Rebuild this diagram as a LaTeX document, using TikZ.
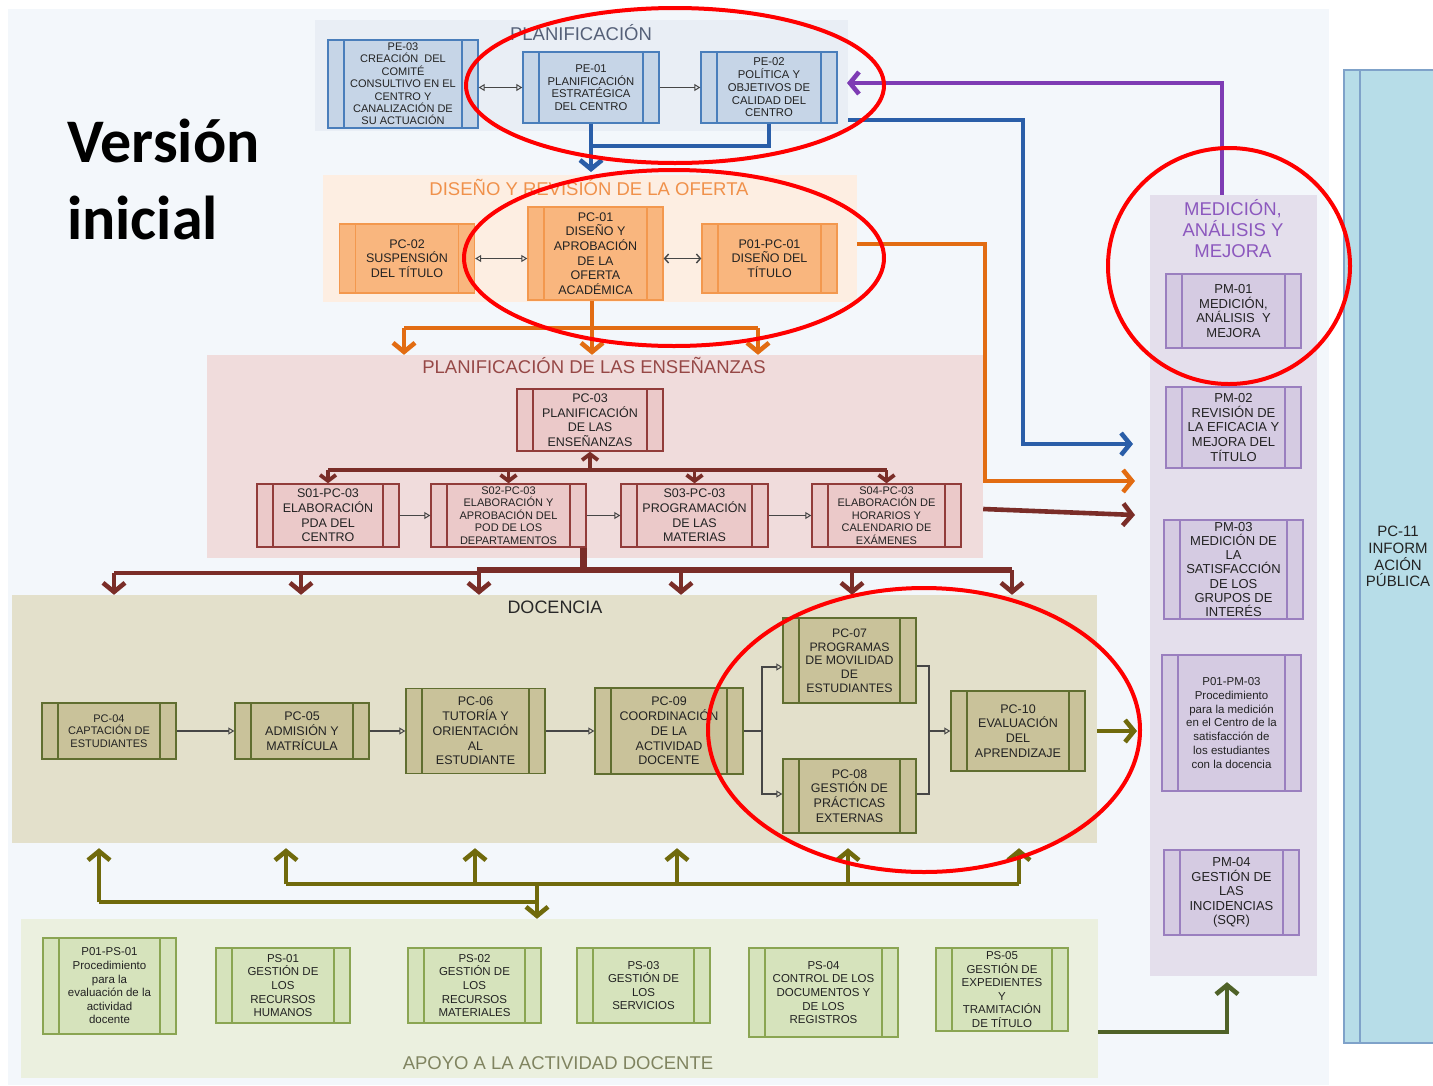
\documentclass[tikz,border=0pt]{standalone}
\usepackage{fontspec}
\setmainfont{Liberation Sans}
\newfontfamily\calibri{Carlito}
\usetikzlibrary{arrows.meta}

\definecolor{fondo}{RGB}{243,247,251}
\definecolor{bgplan}{RGB}{233,238,245}
\definecolor{bgdis}{RGB}{253,238,226}
\definecolor{bgens}{RGB}{240,220,220}
\definecolor{bgdoc}{RGB}{227,224,203}
\definecolor{bgapo}{RGB}{235,240,223}
\definecolor{bgmed}{RGB}{228,223,236}
\definecolor{azulb}{RGB}{74,126,187}
\definecolor{azulr}{RGB}{198,213,231}
\definecolor{naranjab}{RGB}{243,152,78}
\definecolor{naranjar}{RGB}{249,182,126}
\definecolor{rosab}{RGB}{146,60,58}
\definecolor{rosar}{RGB}{235,201,201}
\definecolor{ocreb}{RGB}{96,110,48}
\definecolor{ocrer}{RGB}{201,194,154}
\definecolor{verdeb}{RGB}{138,165,82}
\definecolor{verder}{RGB}{214,227,188}
\definecolor{moradob}{RGB}{154,127,191}
\definecolor{morador}{RGB}{213,203,226}
\definecolor{celesteb}{RGB}{127,162,201}
\definecolor{celester}{RGB}{183,221,232}
\definecolor{conector}{RGB}{70,70,70}
\definecolor{flazul}{RGB}{42,94,168}
\definecolor{flnaranja}{RGB}{226,108,18}
\definecolor{flmorado}{RGB}{126,60,180}
\definecolor{flgranate}{RGB}{122,45,40}
\definecolor{floliva}{RGB}{112,106,12}
\definecolor{flverde}{RGB}{79,98,40}
\definecolor{tplan}{RGB}{85,96,120}
\definecolor{tdis}{RGB}{240,145,75}
\definecolor{tens}{RGB}{150,72,70}
\definecolor{tdoc}{RGB}{40,40,40}
\definecolor{tapo}{RGB}{128,132,96}
\definecolor{tmed}{RGB}{140,88,190}
\definecolor{texto}{RGB}{35,35,35}

\begin{document}
\begin{tikzpicture}[x=1pt,y=1pt,yscale=-1,
  proc/.style 2 args={draw=#1, fill=#2, line width=1.4pt, inner sep=0pt, align=center, text=texto,
    path picture={\draw[#1, line width=1.4pt]
      ([xshift=16pt]path picture bounding box.north west) -- ([xshift=16pt]path picture bounding box.south west)
      ([xshift=-16pt]path picture bounding box.north east) -- ([xshift=-16pt]path picture bounding box.south east);}},
  caja/.style 2 args={minimum width=#1pt, minimum height=#2pt},
  pe/.style={proc={azulb}{azulr}, font=\fontsize{11.3}{12.7}\selectfont},
  pcn/.style={proc={naranjab}{naranjar}, font=\fontsize{12.5}{14.6}\selectfont},
  pcr/.style={proc={rosab}{rosar}, font=\fontsize{12.5}{14.6}\selectfont},
  pcd/.style={proc={ocreb}{ocrer}, font=\fontsize{12.5}{14.7}\selectfont},
  ps/.style={proc={verdeb}{verder}, font=\fontsize{11.5}{13.6}\selectfont},
  pm/.style={proc={moradob}{morador}, font=\fontsize{13}{14.6}\selectfont},
  menor/.style={font=\fontsize{11}{12.6}\selectfont},
  grupo/.style={rectangle, inner sep=0pt, draw=none},
  titulo/.style={anchor=base, inner sep=0pt, font=\fontsize{18.5}{21}\selectfont},
  linea/.style={draw=conector, line width=1.4pt},
  flecha/.style={linea, -{Triangle[open, length=6pt, width=7pt, line width=1pt]}},
  dflecha/.style={linea, {Triangle[open, length=6pt, width=7pt, line width=1pt]}-{Triangle[open, length=6pt, width=7pt, line width=1pt]}},
  barbas/.style={linea, {Straight Barb[length=4pt, width=9pt]}-{Straight Barb[length=4pt, width=9pt]}},
  gruesa/.style={line width=4.6pt},
  punta/.style={gruesa, -{Straight Barb[length=9pt, width=22pt]}},
  puntac/.style={line width=3.8pt, -{Straight Barb[length=6pt, width=16pt]}},
  rojo/.style={draw=red, line width=4pt}]
  \useasboundingbox (0,0) rectangle (1433,1085);
  %Shape: Rectangle
  \fill[white] (0,0) rectangle (1433,1085);
  \fill[fondo] (8,9) rectangle (1329,1085);

  %Shape: Rectangle (grupos)
  \node[grupo, fill=bgplan, caja={533}{111}] (gplan) at (581.5,75.5) {};
  \node[grupo, fill=bgdis, caja={534}{127}] (gdis) at (590,238.5) {};
  \node[grupo, fill=bgens, caja={776}{203}] (gens) at (595,456.5) {};
  \node[grupo, fill=bgdoc, caja={1085}{248}] (gdoc) at (554.5,719) {};
  \node[grupo, fill=bgapo, caja={1077}{159}] (gapo) at (559.5,998.5) {};
  \node[grupo, fill=bgmed, caja={167}{781}] (gmed) at (1233.5,585.5) {};

  % Text Node
  \node[titulo, text=tplan] (titplan) at (581,40) {PLANIFICACIÓN};
  % Text Node
  \node[titulo, text=tdis] (titdis) at (589,195) {DISEÑO Y REVISIÓN DE LA OFERTA};
  % Text Node
  \node[titulo, text=tens] (titens) at (594,373) {PLANIFICACIÓN DE LAS ENSEÑANZAS};
  % Text Node
  \node[titulo, text=tdoc, font=\fontsize{18}{20}\selectfont] (titdoc) at (555,613) {DOCENCIA};
  % Text Node
  \node[titulo, text=tapo] (titapo) at (558,1069) {APOYO A LA ACTIVIDAD DOCENTE};
  % Text Node
  \node[align=center, inner sep=0pt, text=tmed, font=\fontsize{18.5}{21}\selectfont] (titmed) at (1233,229) {MEDICIÓN,\\ANÁLISIS Y\\MEJORA};
  % Text Node
  \node[anchor=base west, align=left, inner sep=0pt, font=\calibri\bfseries\fontsize{62}{77}\selectfont] (version) at (67,239) {Versión\\inicial};

  %Shape: Procesos estratégicos
  \node[pe, caja={150}{88}, font=\fontsize{11}{12.4}\selectfont] (pe03) at (403,84) {PE-03\\CREACIÓN \ DEL\\COMITÉ\\CONSULTIVO EN EL\\CENTRO Y\\CANALIZACIÓN DE\\SU ACTUACIÓN};
  \node[pe, caja={136}{71}] (pe01) at (591,87.5) {PE-01\\PLANIFICACIÓN\\ESTRATÉGICA\\DEL CENTRO};
  \node[pe, caja={136}{71}] (pe02) at (769,87.5) {PE-02\\POLÍTICA Y\\OBJETIVOS DE\\CALIDAD DEL\\CENTRO};

  %Shape: Diseño de la oferta
  \node[pcn, caja={135}{69}] (pc02) at (407,258.5) {PC-02\\SUSPENSIÓN\\DEL TÍTULO};
  \node[pcn, caja={135}{93}] (pc01) at (595.5,253.5) {PC-01\\DISEÑO Y\\APROBACIÓN\\DE LA\\OFERTA\\ACADÉMICA};
  \node[pcn, caja={135}{69}] (p01pc01) at (769.5,258.5) {P01-PC-01\\DISEÑO DEL\\TÍTULO};

  %Shape: Planificación de las enseñanzas
  \node[pcr, caja={146}{62}] (pc03) at (590,420) {PC-03\\PLANIFICACIÓN\\DE LAS\\ENSEÑANZAS};
  \node[pcr, caja={142}{63}] (s01) at (328,515.5) {S01-PC-03\\ELABORACIÓN\\PDA DEL\\CENTRO};
  \node[pcr, menor, caja={155}{63}] (s02) at (508.5,515.5) {S02-PC-03\\ELABORACIÓN Y\\APROBACIÓN DEL\\POD DE LOS\\DEPARTAMENTOS};
  \node[pcr, caja={147}{63}] (s03) at (694.5,515.5) {S03-PC-03\\PROGRAMACIÓN\\DE LAS\\MATERIAS};
  \node[pcr, menor, caja={149}{63}] (s04) at (886.5,515.5) {S04-PC-03\\ELABORACIÓN DE\\HORARIOS Y\\CALENDARIO DE\\EXÁMENES};

  %Shape: Docencia
  \node[pcd, menor, caja={134}{56}] (pc04) at (109,731) {PC-04\\CAPTACIÓN DE\\ESTUDIANTES};
  \node[pcd, caja={134}{56}] (pc05) at (302,731) {PC-05\\ADMISIÓN Y\\MATRÍCULA};
  \node[pcd, caja={139}{85}] (pc06) at (475.5,731) {PC-06\\TUTORÍA Y\\ORIENTACIÓN\\AL\\ESTUDIANTE};
  \node[pcd, caja={148}{86}] (pc09) at (669,731) {PC-09\\COORDINACIÓN\\DE LA\\ACTIVIDAD\\DOCENTE};
  \node[pcd, caja={133}{85}, font=\fontsize{12.3}{13.7}\selectfont] (pc07) at (849.5,660.5) {PC-07\\PROGRAMAS\\DE MOVILIDAD\\DE\\ESTUDIANTES};
  \node[pcd, caja={133}{74}] (pc08) at (849.5,796) {PC-08\\GESTIÓN DE\\PRÁCTICAS\\EXTERNAS};
  \node[pcd, caja={134}{80}] (pc10) at (1018,731) {PC-10\\EVALUACIÓN\\DEL\\APRENDIZAJE};

  %Shape: Apoyo
  \node[ps, caja={133}{96}] (p01ps01) at (109.5,986) {P01-PS-01\\Procedimiento\\para la\\evaluación de la\\actividad\\docente};
  \node[ps, caja={134}{75}] (ps01) at (283,985.5) {PS-01\\GESTIÓN DE\\LOS\\RECURSOS\\HUMANOS};
  \node[ps, caja={133}{75}] (ps02) at (474.5,985.5) {PS-02\\GESTIÓN DE\\LOS\\RECURSOS\\MATERIALES};
  \node[ps, caja={133}{75}] (ps03) at (643.5,985.5) {PS-03\\GESTIÓN DE\\LOS\\SERVICIOS};
  \node[ps, caja={149}{89}] (ps04) at (823.5,992.5) {PS-04\\CONTROL DE LOS\\DOCUMENTOS Y\\DE LOS\\REGISTROS};
  \node[ps, caja={132}{83}] (ps05) at (1002,989.5) {PS-05\\GESTIÓN DE\\EXPEDIENTES\\Y\\TRAMITACIÓN\\DE TÍTULO};

  %Shape: Medición
  \node[pm, caja={135}{74}] (pm01) at (1233.5,311) {PM-01\\MEDICIÓN,\\ANÁLISIS \ Y\\MEJORA};
  \node[pm, caja={135}{81}] (pm02) at (1233.5,427.5) {PM-02\\REVISIÓN DE\\LA EFICACIA Y\\MEJORA DEL\\TÍTULO};
  \node[pm, caja={139}{99}, font=\fontsize{13}{14.2}\selectfont] (pm03) at (1233.5,569.5) {PM-03\\MEDICIÓN DE\\LA\\SATISFACCIÓN\\DE LOS\\GRUPOS DE\\INTERÉS};
  \node[pm, caja={139}{136}, font=\fontsize{11.5}{13.7}\selectfont] (p01pm03) at (1231.5,723) {P01-PM-03\\Procedimiento\\para la medición\\en el Centro de la\\satisfacción de\\los estudiantes\\con la docencia};
  \node[pm, caja={135}{85}] (pm04) at (1231.5,892.5) {PM-04\\GESTIÓN DE\\LAS\\INCIDENCIAS\\(SQR)};

  %Shape: Información pública
  \node[proc={celesteb}{celester}, caja={108}{973}, font=\fontsize{15}{16.7}\selectfont] (pc11) at (1398,556.5) {PC-11\\INFORM\\ACIÓN\\PÚBLICA};

  %Straight Lines
  \draw[dflecha] (pe03.east |- pe01.west) -- (pe01.west);
  \draw[flecha] (pe01) -- (pe02);
  \draw[dflecha] (pc02.east) -- (pc01.west |- pc02.east);
  \draw[barbas] (pc01.east |- p01pc01.west) -- (p01pc01.west);
  \draw[flecha] (s01) -- (s02);
  \draw[flecha] (s02) -- (s03);
  \draw[flecha] (s03) -- (s04);
  \draw[flecha] (pc04) -- (pc05);
  \draw[flecha] (pc05) -- (pc06);
  \draw[flecha] (pc06) -- (pc09);
  \coordinate (izq) at (762,731);
  \coordinate (der) at (929,731);
  \draw[linea] (pc09.east) -- (izq);
  \draw[flecha] (izq) |- (pc07.west |- 0,667);
  \draw[flecha] (izq) |- (pc08.west |- 0,794);
  \draw[linea] (pc07.east |- 0,666) -| (der);
  \draw[linea] (pc08.east |- 0,794) -| (der);
  \draw[flecha] (der) -- (pc10.west);

  %Thick arrows: planificación
  \draw[gruesa, flazul] (pe02.south) |- (pe01.south |- 0,146);
  \draw[punta, flazul] (pe01.south) -- (pe01.south |- 0,172);
  \draw[punta, flazul] (gplan.east |- 0,120) -| (1023,300) |- (1133,444);
  \draw[punta, flmorado] (1222,0 |- gmed.north) |- (847,83);

  %Thick arrows: oferta
  \draw[punta, flnaranja] (592,0 |- pc01.south) -- (592,0 |- gens.north);
  \draw[gruesa, flnaranja] (404,328) -- (758,328);
  \foreach \x in {404,758}
    \draw[punta, flnaranja] (\x,328) -- (\x,328 |- gens.north);
  \draw[punta, flnaranja] (gdis.east |- 0,244) -| (985,300) |- (1135,481);

  %Thick arrows: enseñanzas
  \draw[flgranate, line width=3.8pt] (s01.north |- 0,470) -- (s04.north |- 0,470);
  \draw[puntac, flgranate] (pc03.south |- 0,470) -- (pc03.south);
  \foreach \n in {s01,s02,s03,s04}
    \draw[puntac, flgranate] (\n.north |- 0,470) -- (\n.north);
  \draw[punta, flgranate] (gens.east |- 0,509) -- (1135,515);
  \draw[flgranate, line width=6.5pt] ([xshift=-3pt]s02.south east) -- ([xshift=-3pt]s02.south east |- 0,570);
  \draw[flgranate, line width=6.5pt] (477,570) -- (1012,570);
  \draw[gruesa, flgranate] (114,573) -- (479,573);
  \foreach \x in {114,301}
    \draw[punta, flgranate] (\x,573) -- (\x,573 |- gdoc.north);
  \foreach \x in {479,681,852,1012}
    \draw[punta, flgranate] (\x,570) -- (\x,570 |- gdoc.north);

  %Thick arrows: docencia y apoyo
  \draw[punta, floliva] (gdoc.east |- pc10.east) -- (1137,731);
  \draw[gruesa, floliva] (286,884) -- (1019,884);
  \draw[gruesa, floliva] (99,902) -- (537,902);
  \draw[punta, floliva] (537,884) -- (537,884 |- gapo.north);
  \foreach \x in {286,475,677,848,1019}
    \draw[punta, floliva, shorten >=5pt] (\x,884) -- (\x,884 |- gdoc.south);
  \draw[punta, floliva, shorten >=5pt] (99,902) -- (99,902 |- gdoc.south);
  \draw[punta, flverde, shorten >=6pt] (gapo.east |- 0,1032) -| (1227,0 |- gmed.south);

  %Shape: Ellipse (marcas)
  \draw[rojo] (675,85.5) ellipse [x radius=209, y radius=77.5];
  \draw[rojo] (674,258) ellipse [x radius=210, y radius=88];
  \draw[rojo] (1229,266) ellipse [x radius=121, y radius=118];
  \draw[rojo] (924,730) ellipse [x radius=216, y radius=142];
\end{tikzpicture}
\end{document}
